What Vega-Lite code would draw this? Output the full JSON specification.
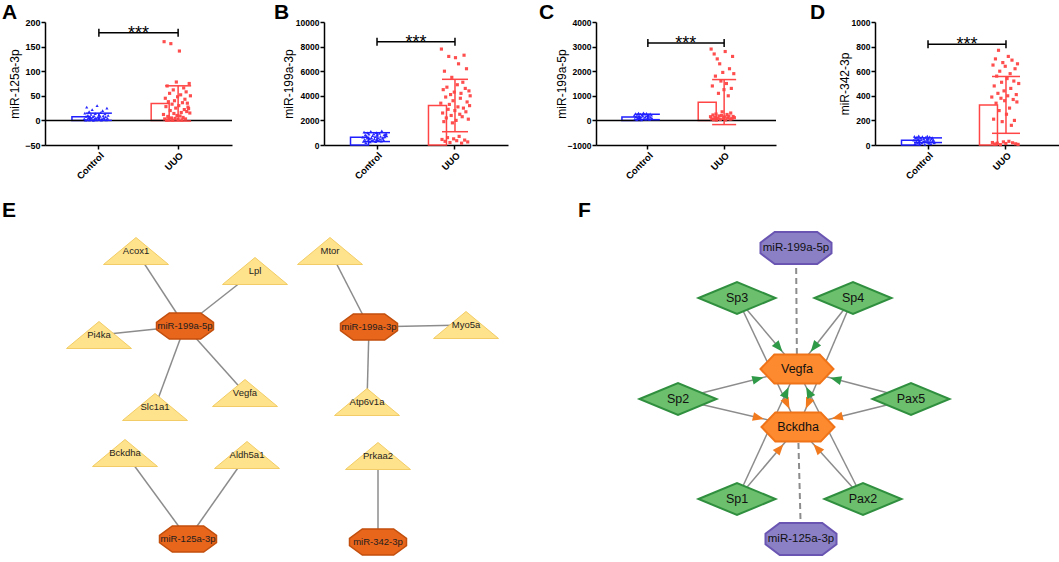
{
 "$schema": "https://vega.github.io/schema/vega-lite/v6.json",
 "padding": {"left": 2, "top": 2, "right": 0, "bottom": 0},
 "config": {
  "view": {"stroke": null},
  "font": "Liberation Sans",
  "title": {"fontSize": 21, "fontWeight": "bold", "anchor": "start", "frame": "group", "baseline": "alphabetic", "color": "#000000", "font": "Liberation Sans"},
  "axis": {"domainColor": "#000000", "tickColor": "#000000", "labelColor": "#000000", "titleColor": "#000000", "grid": false, "domainWidth": 1.5, "tickWidth": 1.5, "tickSize": 4, "labelFontWeight": "bold", "titleFontWeight": "normal", "titleFontSize": 12, "labelPadding": 1, "labelFont": "Liberation Sans", "titleFont": "Liberation Sans", "labelOverlap": false},
  "axisX": {"labelAngle": -45, "labelFontSize": 9.5},
  "axisY": {"labelFontSize": 8.5, "titlePadding": 2, "format": "d", "labelOverlap": false, "tickCount": 12}
 },
 "datasets": {
  "summary": [
   {"panel": "A", "group": "Control", "mean": 7.3, "lo": 0, "hi": 14.7},
   {"panel": "A", "group": "UUO", "mean": 34.5, "lo": -1.3, "hi": 70.3},
   {"panel": "B", "group": "Control", "mean": 640, "lo": 280, "hi": 1000},
   {"panel": "B", "group": "UUO", "mean": 3210, "lo": 1080, "hi": 5340},
   {"panel": "C", "group": "Control", "mean": 140, "lo": 30, "hi": 250},
   {"panel": "C", "group": "UUO", "mean": 740, "lo": -170, "hi": 1660},
   {"panel": "D", "group": "Control", "mean": 39, "lo": 20, "hi": 58},
   {"panel": "D", "group": "UUO", "mean": 326, "lo": 95, "hi": 557}
  ],
  "sig": [
   {"panel": "A", "group": "Control", "g2": "UUO", "y": 178},
   {"panel": "B", "group": "Control", "g2": "UUO", "y": 8400},
   {"panel": "C", "group": "Control", "g2": "UUO", "y": 3150},
   {"panel": "D", "group": "Control", "g2": "UUO", "y": 820}
  ],
  "dots": [
   {"panel":"A","group":"Control","value":3},{"panel":"A","group":"Control","value":15},{"panel":"A","group":"Control","value":0.5},{"panel":"A","group":"Control","value":8},{"panel":"A","group":"Control","value":27},
   {"panel":"A","group":"Control","value":2},{"panel":"A","group":"Control","value":10},{"panel":"A","group":"Control","value":5},{"panel":"A","group":"Control","value":18},{"panel":"A","group":"Control","value":1},
   {"panel":"A","group":"Control","value":6},{"panel":"A","group":"Control","value":12},{"panel":"A","group":"Control","value":4},{"panel":"A","group":"Control","value":22},{"panel":"A","group":"Control","value":7},
   {"panel":"A","group":"Control","value":0},{"panel":"A","group":"Control","value":9},{"panel":"A","group":"Control","value":3},{"panel":"A","group":"Control","value":14},{"panel":"A","group":"Control","value":5},
   {"panel":"A","group":"Control","value":1},{"panel":"A","group":"Control","value":30},{"panel":"A","group":"Control","value":6},{"panel":"A","group":"Control","value":2},{"panel":"A","group":"Control","value":11},
   {"panel":"A","group":"Control","value":4},{"panel":"A","group":"Control","value":8},{"panel":"A","group":"Control","value":16},{"panel":"A","group":"Control","value":0.5},{"panel":"A","group":"Control","value":3},
   {"panel":"A","group":"Control","value":20},{"panel":"A","group":"Control","value":9},{"panel":"A","group":"Control","value":5},{"panel":"A","group":"Control","value":2},{"panel":"A","group":"Control","value":13},
   {"panel":"A","group":"Control","value":7},{"panel":"A","group":"Control","value":1},{"panel":"A","group":"Control","value":25},{"panel":"A","group":"Control","value":4},{"panel":"A","group":"Control","value":10},
   {"panel":"A","group":"UUO","value":12},{"panel":"A","group":"UUO","value":160},{"panel":"A","group":"UUO","value":3},{"panel":"A","group":"UUO","value":45},{"panel":"A","group":"UUO","value":28},
   {"panel":"A","group":"UUO","value":1},{"panel":"A","group":"UUO","value":70},{"panel":"A","group":"UUO","value":8},{"panel":"A","group":"UUO","value":38},{"panel":"A","group":"UUO","value":2},
   {"panel":"A","group":"UUO","value":55},{"panel":"A","group":"UUO","value":20},{"panel":"A","group":"UUO","value":156},{"panel":"A","group":"UUO","value":5},{"panel":"A","group":"UUO","value":33},
   {"panel":"A","group":"UUO","value":0.5},{"panel":"A","group":"UUO","value":62},{"panel":"A","group":"UUO","value":14},{"panel":"A","group":"UUO","value":40},{"panel":"A","group":"UUO","value":4},
   {"panel":"A","group":"UUO","value":25},{"panel":"A","group":"UUO","value":78},{"panel":"A","group":"UUO","value":10},{"panel":"A","group":"UUO","value":48},{"panel":"A","group":"UUO","value":2},
   {"panel":"A","group":"UUO","value":30},{"panel":"A","group":"UUO","value":141},{"panel":"A","group":"UUO","value":9},{"panel":"A","group":"UUO","value":52},{"panel":"A","group":"UUO","value":16},
   {"panel":"A","group":"UUO","value":1},{"panel":"A","group":"UUO","value":36},{"panel":"A","group":"UUO","value":6},{"panel":"A","group":"UUO","value":66},{"panel":"A","group":"UUO","value":22},
   {"panel":"A","group":"UUO","value":43},{"panel":"A","group":"UUO","value":3},{"panel":"A","group":"UUO","value":58},{"panel":"A","group":"UUO","value":18},{"panel":"A","group":"UUO","value":35},
   {"panel":"A","group":"UUO","value":27},{"panel":"A","group":"UUO","value":24},{"panel":"A","group":"UUO","value":75},{"panel":"A","group":"UUO","value":15},{"panel":"A","group":"UUO","value":50},
   {"panel":"B","group":"Control","value":640},{"panel":"B","group":"Control","value":300},{"panel":"B","group":"Control","value":1050},{"panel":"B","group":"Control","value":460},{"panel":"B","group":"Control","value":820},
   {"panel":"B","group":"Control","value":200},{"panel":"B","group":"Control","value":720},{"panel":"B","group":"Control","value":560},{"panel":"B","group":"Control","value":980},{"panel":"B","group":"Control","value":380},
   {"panel":"B","group":"Control","value":880},{"panel":"B","group":"Control","value":520},{"panel":"B","group":"Control","value":250},{"panel":"B","group":"Control","value":1100},{"panel":"B","group":"Control","value":600},
   {"panel":"B","group":"Control","value":420},{"panel":"B","group":"Control","value":760},{"panel":"B","group":"Control","value":340},{"panel":"B","group":"Control","value":900},{"panel":"B","group":"Control","value":500},
   {"panel":"B","group":"Control","value":680},{"panel":"B","group":"Control","value":280},{"panel":"B","group":"Control","value":1000},{"panel":"B","group":"Control","value":440},{"panel":"B","group":"Control","value":800},
   {"panel":"B","group":"Control","value":580},{"panel":"B","group":"Control","value":360},{"panel":"B","group":"Control","value":950},{"panel":"B","group":"Control","value":480},{"panel":"B","group":"Control","value":700},
   {"panel":"B","group":"Control","value":320},{"panel":"B","group":"Control","value":1150},{"panel":"B","group":"Control","value":540},{"panel":"B","group":"Control","value":620},{"panel":"B","group":"Control","value":400},
   {"panel":"B","group":"Control","value":850},{"panel":"B","group":"Control","value":660},{"panel":"B","group":"Control","value":780},{"panel":"B","group":"Control","value":920},{"panel":"B","group":"Control","value":740},
   {"panel":"B","group":"UUO","value":3400},{"panel":"B","group":"UUO","value":7800},{"panel":"B","group":"UUO","value":450},{"panel":"B","group":"UUO","value":2600},{"panel":"B","group":"UUO","value":4500},
   {"panel":"B","group":"UUO","value":1900},{"panel":"B","group":"UUO","value":6000},{"panel":"B","group":"UUO","value":300},{"panel":"B","group":"UUO","value":3900},{"panel":"B","group":"UUO","value":2200},
   {"panel":"B","group":"UUO","value":4700},{"panel":"B","group":"UUO","value":600},{"panel":"B","group":"UUO","value":2900},{"panel":"B","group":"UUO","value":7200},{"panel":"B","group":"UUO","value":3300},
   {"panel":"B","group":"UUO","value":200},{"panel":"B","group":"UUO","value":4100},{"panel":"B","group":"UUO","value":2400},{"panel":"B","group":"UUO","value":5500},{"panel":"B","group":"UUO","value":1800},
   {"panel":"B","group":"UUO","value":3600},{"panel":"B","group":"UUO","value":500},{"panel":"B","group":"UUO","value":4300},{"panel":"B","group":"UUO","value":2800},{"panel":"B","group":"UUO","value":7100},
   {"panel":"B","group":"UUO","value":2000},{"panel":"B","group":"UUO","value":350},{"panel":"B","group":"UUO","value":4900},{"panel":"B","group":"UUO","value":3100},{"panel":"B","group":"UUO","value":6600},
   {"panel":"B","group":"UUO","value":700},{"panel":"B","group":"UUO","value":2500},{"panel":"B","group":"UUO","value":3800},{"panel":"B","group":"UUO","value":4200},{"panel":"B","group":"UUO","value":150},
   {"panel":"B","group":"UUO","value":2300},{"panel":"B","group":"UUO","value":5100},{"panel":"B","group":"UUO","value":3000},{"panel":"B","group":"UUO","value":7300},{"panel":"B","group":"UUO","value":400},
   {"panel":"B","group":"UUO","value":4600},{"panel":"B","group":"UUO","value":2700},{"panel":"B","group":"UUO","value":6200},{"panel":"B","group":"UUO","value":3500},{"panel":"B","group":"UUO","value":250},
   {"panel":"B","group":"UUO","value":2100},{"panel":"B","group":"UUO","value":4400},{"panel":"B","group":"UUO","value":3200},{"panel":"B","group":"UUO","value":4000},
   {"panel":"C","group":"Control","value":200},{"panel":"C","group":"Control","value":60},{"panel":"C","group":"Control","value":280},{"panel":"C","group":"Control","value":150},{"panel":"C","group":"Control","value":30},
   {"panel":"C","group":"Control","value":240},{"panel":"C","group":"Control","value":110},{"panel":"C","group":"Control","value":300},{"panel":"C","group":"Control","value":180},{"panel":"C","group":"Control","value":90},
   {"panel":"C","group":"Control","value":260},{"panel":"C","group":"Control","value":130},{"panel":"C","group":"Control","value":20},{"panel":"C","group":"Control","value":220},{"panel":"C","group":"Control","value":170},
   {"panel":"C","group":"Control","value":310},{"panel":"C","group":"Control","value":70},{"panel":"C","group":"Control","value":250},{"panel":"C","group":"Control","value":140},{"panel":"C","group":"Control","value":50},
   {"panel":"C","group":"Control","value":290},{"panel":"C","group":"Control","value":190},{"panel":"C","group":"Control","value":100},{"panel":"C","group":"Control","value":230},{"panel":"C","group":"Control","value":160},
   {"panel":"C","group":"Control","value":40},{"panel":"C","group":"Control","value":270},{"panel":"C","group":"Control","value":120},{"panel":"C","group":"Control","value":210},{"panel":"C","group":"Control","value":80},
   {"panel":"C","group":"UUO","value":150},{"panel":"C","group":"UUO","value":2900},{"panel":"C","group":"UUO","value":60},{"panel":"C","group":"UUO","value":1400},{"panel":"C","group":"UUO","value":220},
   {"panel":"C","group":"UUO","value":30},{"panel":"C","group":"UUO","value":2700},{"panel":"C","group":"UUO","value":120},{"panel":"C","group":"UUO","value":1800},{"panel":"C","group":"UUO","value":260},
   {"panel":"C","group":"UUO","value":10},{"panel":"C","group":"UUO","value":2500},{"panel":"C","group":"UUO","value":90},{"panel":"C","group":"UUO","value":1100},{"panel":"C","group":"UUO","value":180},
   {"panel":"C","group":"UUO","value":2300},{"panel":"C","group":"UUO","value":40},{"panel":"C","group":"UUO","value":1600},{"panel":"C","group":"UUO","value":200},{"panel":"C","group":"UUO","value":350},
   {"panel":"C","group":"UUO","value":1950},{"panel":"C","group":"UUO","value":80},{"panel":"C","group":"UUO","value":1250},{"panel":"C","group":"UUO","value":140},{"panel":"C","group":"UUO","value":2800},
   {"panel":"C","group":"UUO","value":20},{"panel":"C","group":"UUO","value":1500},{"panel":"C","group":"UUO","value":240},{"panel":"C","group":"UUO","value":100},{"panel":"C","group":"UUO","value":1000},
   {"panel":"C","group":"UUO","value":170},{"panel":"C","group":"UUO","value":2100},{"panel":"C","group":"UUO","value":50},{"panel":"C","group":"UUO","value":300},{"panel":"C","group":"UUO","value":1300},
   {"panel":"C","group":"UUO","value":70},{"panel":"C","group":"UUO","value":2600},{"panel":"C","group":"UUO","value":160},{"panel":"C","group":"UUO","value":1900},{"panel":"C","group":"UUO","value":110},
   {"panel":"D","group":"Control","value":40},{"panel":"D","group":"Control","value":70},{"panel":"D","group":"Control","value":12},{"panel":"D","group":"Control","value":56},{"panel":"D","group":"Control","value":28},
   {"panel":"D","group":"Control","value":64},{"panel":"D","group":"Control","value":20},{"panel":"D","group":"Control","value":48},{"panel":"D","group":"Control","value":75},{"panel":"D","group":"Control","value":34},
   {"panel":"D","group":"Control","value":8},{"panel":"D","group":"Control","value":58},{"panel":"D","group":"Control","value":44},{"panel":"D","group":"Control","value":16},{"panel":"D","group":"Control","value":68},
   {"panel":"D","group":"Control","value":26},{"panel":"D","group":"Control","value":52},{"panel":"D","group":"Control","value":36},{"panel":"D","group":"Control","value":6},{"panel":"D","group":"Control","value":62},
   {"panel":"D","group":"Control","value":30},{"panel":"D","group":"Control","value":46},{"panel":"D","group":"Control","value":72},{"panel":"D","group":"Control","value":22},{"panel":"D","group":"Control","value":54},
   {"panel":"D","group":"Control","value":14},{"panel":"D","group":"Control","value":66},{"panel":"D","group":"Control","value":38},{"panel":"D","group":"Control","value":10},{"panel":"D","group":"Control","value":50},
   {"panel":"D","group":"Control","value":60},{"panel":"D","group":"Control","value":32},{"panel":"D","group":"Control","value":42},{"panel":"D","group":"Control","value":18},{"panel":"D","group":"Control","value":24},
   {"panel":"D","group":"UUO","value":390},{"panel":"D","group":"UUO","value":20},{"panel":"D","group":"UUO","value":650},{"panel":"D","group":"UUO","value":210},{"panel":"D","group":"UUO","value":480},
   {"panel":"D","group":"UUO","value":8},{"panel":"D","group":"UUO","value":700},{"panel":"D","group":"UUO","value":340},{"panel":"D","group":"UUO","value":560},{"panel":"D","group":"UUO","value":15},
   {"panel":"D","group":"UUO","value":420},{"panel":"D","group":"UUO","value":770},{"panel":"D","group":"UUO","value":280},{"panel":"D","group":"UUO","value":600},{"panel":"D","group":"UUO","value":3},
   {"panel":"D","group":"UUO","value":380},{"panel":"D","group":"UUO","value":510},{"panel":"D","group":"UUO","value":190},{"panel":"D","group":"UUO","value":670},{"panel":"D","group":"UUO","value":25},
   {"panel":"D","group":"UUO","value":440},{"panel":"D","group":"UUO","value":360},{"panel":"D","group":"UUO","value":640},{"panel":"D","group":"UUO","value":12},{"panel":"D","group":"UUO","value":250},
   {"panel":"D","group":"UUO","value":540},{"panel":"D","group":"UUO","value":400},{"panel":"D","group":"UUO","value":720},{"panel":"D","group":"UUO","value":30},{"panel":"D","group":"UUO","value":300},
   {"panel":"D","group":"UUO","value":580},{"panel":"D","group":"UUO","value":460},{"panel":"D","group":"UUO","value":160},{"panel":"D","group":"UUO","value":690},{"panel":"D","group":"UUO","value":18},
   {"panel":"D","group":"UUO","value":370},{"panel":"D","group":"UUO","value":520},{"panel":"D","group":"UUO","value":200},{"panel":"D","group":"UUO","value":620},{"panel":"D","group":"UUO","value":10},
   {"panel":"D","group":"UUO","value":410},{"panel":"D","group":"UUO","value":350},{"panel":"D","group":"UUO","value":660},{"panel":"D","group":"UUO","value":5},{"panel":"D","group":"UUO","value":500}
  ],
  "enodes": [
   {"id": "Acox1", "kind": "gene", "x": 134, "y": 30},
   {"id": "Lpl", "kind": "gene", "x": 253, "y": 50},
   {"id": "Mtor", "kind": "gene", "x": 328, "y": 30},
   {"id": "Pi4ka", "kind": "gene", "x": 97, "y": 114},
   {"id": "miR-199a-5p", "kind": "mirna", "x": 183, "y": 105},
   {"id": "miR-199a-3p", "kind": "mirna", "x": 367, "y": 106},
   {"id": "Myo5a", "kind": "gene", "x": 464, "y": 104},
   {"id": "Slc1a1", "kind": "gene", "x": 153, "y": 186},
   {"id": "Vegfa", "kind": "gene", "x": 243, "y": 172},
   {"id": "Atp6v1a", "kind": "gene", "x": 365, "y": 181},
   {"id": "Bckdha", "kind": "gene", "x": 123, "y": 232},
   {"id": "Aldh5a1", "kind": "gene", "x": 245, "y": 234},
   {"id": "Prkaa2", "kind": "gene", "x": 376, "y": 235},
   {"id": "miR-125a-3p", "kind": "mirna", "x": 186, "y": 318},
   {"id": "miR-342-3p", "kind": "mirna", "x": 376, "y": 321}
  ],
  "eedges": [
   {"s": "miR-199a-5p", "t": "Acox1"},
   {"s": "miR-199a-5p", "t": "Lpl"},
   {"s": "miR-199a-5p", "t": "Pi4ka"},
   {"s": "miR-199a-5p", "t": "Slc1a1"},
   {"s": "miR-199a-5p", "t": "Vegfa"},
   {"s": "miR-199a-3p", "t": "Mtor"},
   {"s": "miR-199a-3p", "t": "Myo5a"},
   {"s": "miR-199a-3p", "t": "Atp6v1a"},
   {"s": "miR-125a-3p", "t": "Bckdha"},
   {"s": "miR-125a-3p", "t": "Aldh5a1"},
   {"s": "miR-342-3p", "t": "Prkaa2"}
  ],
  "fnodes": [
   {"id": "miR-199a-5p", "kind": "mirna", "x": 218, "y": 27},
   {"id": "Sp3", "kind": "tf", "x": 159, "y": 77},
   {"id": "Sp4", "kind": "tf", "x": 275, "y": 77},
   {"id": "Vegfa", "kind": "target", "x": 219, "y": 148},
   {"id": "Sp2", "kind": "tf", "x": 100, "y": 178},
   {"id": "Pax5", "kind": "tf", "x": 333, "y": 178},
   {"id": "Bckdha", "kind": "target", "x": 220, "y": 206},
   {"id": "Sp1", "kind": "tf", "x": 159, "y": 278},
   {"id": "Pax2", "kind": "tf", "x": 285, "y": 278},
   {"id": "miR-125a-3p", "kind": "mirna", "x": 223, "y": 318}
  ],
  "fedges": [
   {"s": "miR-199a-5p", "t": "Vegfa", "type": "mirna"},
   {"s": "miR-125a-3p", "t": "Bckdha", "type": "mirna"},
   {"s": "Sp3", "t": "Vegfa", "type": "tf"},
   {"s": "Sp3", "t": "Bckdha", "type": "tf"},
   {"s": "Sp4", "t": "Vegfa", "type": "tf"},
   {"s": "Sp4", "t": "Bckdha", "type": "tf"},
   {"s": "Sp2", "t": "Vegfa", "type": "tf"},
   {"s": "Sp2", "t": "Bckdha", "type": "tf"},
   {"s": "Pax5", "t": "Vegfa", "type": "tf"},
   {"s": "Pax5", "t": "Bckdha", "type": "tf"},
   {"s": "Sp1", "t": "Vegfa", "type": "tf"},
   {"s": "Sp1", "t": "Bckdha", "type": "tf"},
   {"s": "Pax2", "t": "Vegfa", "type": "tf"},
   {"s": "Pax2", "t": "Bckdha", "type": "tf"}
  ]
 },
 "resolve": {"scale": {"x": "independent", "y": "independent", "color": "independent", "fill": "independent"}},
 "spacing": 19,
 "vconcat": [
  {
   "resolve": {"scale": {"x": "independent", "y": "independent"}},
   "spacing": 31,
   "hconcat": [
    {
     "resolve": {"scale": {"x": "independent", "y": "independent"}},
     "spacing": 41,
     "hconcat": [
      {
       "width": 187, "height": 123,
       "title": {"text": "A", "dx": -43, "offset": -5},
       "layer": [
        {"data": {"name": "summary"}, "transform": [{"filter": "datum.panel==='A'"}],
         "mark": {"type": "bar", "fill": "#ffffff", "strokeWidth": 1.5},
         "encoding": {
          "x": {"field": "group", "type": "nominal", "scale": {"domain": ["Control", "UUO"], "paddingInner": 0.32, "paddingOuter": 0.34}, "axis": {"title": null, "labelOverlap": false}},
          "y": {"field": "mean", "type": "quantitative", "scale": {"domain": [-50, 200], "nice": false, "zero": false}, "axis": {"title": "miR-125a-3p", "values": [-50, 0, 50, 100, 150, 200], "tickCount": 12, "minExtent": 22, "maxExtent": 22, "labelFontSize": 9, "labelOverlap": false, "labelBound": false, "labelFlush": false}},
          "y2": {"datum": 0},
          "stroke": {"field": "group", "type": "nominal", "scale": {"domain": ["Control", "UUO"], "range": ["#1f1fff", "#ff4545"]}, "legend": null}}},
        {"data": {"values": [{"value": 0}]}, "mark": {"type": "rule", "color": "#000000", "strokeWidth": 1.5}, "encoding": {"y": {"field": "value", "type": "quantitative"}}},
        {"data": {"name": "dots"}, "transform": [{"filter": "datum.panel==='A'"}, {"window": [{"op": "row_number", "as": "rn"}], "groupby": ["group"]}],
         "mark": {"type": "point", "filled": true, "size": 10, "opacity": 0.95},
         "encoding": {
          "x": {"field": "group", "type": "nominal"},
          "xOffset": {"field": "rn", "type": "ordinal", "scale": {"range": [12, 42]}},
          "y": {"field": "value", "type": "quantitative"},
          "color": {"field": "group", "type": "nominal", "scale": {"domain": ["Control", "UUO"], "range": ["#1f1fff", "#ff4545"]}, "legend": null},
          "shape": {"field": "group", "type": "nominal", "scale": {"domain": ["Control", "UUO"], "range": ["triangle-up", "square"]}, "legend": null}}},
        {"data": {"name": "summary"}, "transform": [{"filter": "datum.panel==='A'"}], "mark": {"type": "rule", "strokeWidth": 1.5},
         "encoding": {"x": {"field": "group", "type": "nominal"}, "y": {"field": "lo", "type": "quantitative"}, "y2": {"field": "hi"}, "color": {"field": "group", "type": "nominal", "scale": {"domain": ["Control", "UUO"], "range": ["#1f1fff", "#ff4545"]}, "legend": null}}},
        {"data": {"name": "summary"}, "transform": [{"filter": "datum.panel==='A'"}], "mark": {"type": "tick", "size": 26, "thickness": 1.5, "opacity": 1},
         "encoding": {"x": {"field": "group", "type": "nominal"}, "y": {"field": "hi", "type": "quantitative"}, "color": {"field": "group", "type": "nominal", "scale": {"domain": ["Control", "UUO"], "range": ["#1f1fff", "#ff4545"]}, "legend": null}}},
        {"data": {"name": "summary"}, "transform": [{"filter": "datum.panel==='A'"}], "mark": {"type": "tick", "size": 26, "thickness": 1.5, "opacity": 1},
         "encoding": {"x": {"field": "group", "type": "nominal"}, "y": {"field": "lo", "type": "quantitative"}, "color": {"field": "group", "type": "nominal", "scale": {"domain": ["Control", "UUO"], "range": ["#1f1fff", "#ff4545"]}, "legend": null}}},
        {"data": {"name": "sig"}, "transform": [{"filter": "datum.panel==='A'"}], "mark": {"type": "rule", "color": "#000000", "strokeWidth": 1.5},
         "encoding": {"x": {"field": "group", "type": "nominal"}, "x2": {"field": "g2"}, "y": {"field": "y", "type": "quantitative"}}},
        {"data": {"name": "sig"}, "transform": [{"filter": "datum.panel==='A'"}], "mark": {"type": "point", "shape": "M0,-1L0,1", "size": 64, "filled": false, "stroke": "#000000", "strokeWidth": 1.5, "opacity": 1},
         "encoding": {"x": {"field": "group", "type": "nominal"}, "y": {"field": "y", "type": "quantitative"}}},
        {"data": {"name": "sig"}, "transform": [{"filter": "datum.panel==='A'"}], "mark": {"type": "point", "shape": "M0,-1L0,1", "size": 64, "filled": false, "stroke": "#000000", "strokeWidth": 1.5, "opacity": 1},
         "encoding": {"x": {"field": "g2", "type": "nominal"}, "y": {"field": "y", "type": "quantitative"}}},
        {"data": {"name": "sig"}, "transform": [{"filter": "datum.panel==='A'"}], "mark": {"type": "text", "text": "***", "fontSize": 18, "dx": 39.5, "dy": 6, "baseline": "alphabetic", "align": "center", "color": "#000000"},
         "encoding": {"x": {"field": "group", "type": "nominal"}, "y": {"field": "y", "type": "quantitative"}}}
       ]
      },
      {
       "width": 184, "height": 123,
       "title": {"text": "B", "dx": -50, "offset": -5},
       "layer": [
        {"data": {"name": "summary"}, "transform": [{"filter": "datum.panel==='B'"}],
         "mark": {"type": "bar", "fill": "#ffffff", "strokeWidth": 1.5},
         "encoding": {
          "x": {"field": "group", "type": "nominal", "scale": {"domain": ["Control", "UUO"], "paddingInner": 0.32, "paddingOuter": 0.34}, "axis": {"title": null, "labelOverlap": false}},
          "y": {"field": "mean", "type": "quantitative", "scale": {"domain": [0, 10000], "nice": false, "zero": false}, "axis": {"title": "miR-199a-3p", "values": [0, 2000, 4000, 6000, 8000, 10000], "tickCount": 12, "minExtent": 27, "maxExtent": 27, "labelOverlap": false, "labelBound": false, "labelFlush": false}},
          "y2": {"datum": 0},
          "stroke": {"field": "group", "type": "nominal", "scale": {"domain": ["Control", "UUO"], "range": ["#1f1fff", "#ff4545"]}, "legend": null}}},
        {"data": {"name": "dots"}, "transform": [{"filter": "datum.panel==='B'"}, {"window": [{"op": "row_number", "as": "rn"}], "groupby": ["group"]}],
         "mark": {"type": "point", "filled": true, "size": 10, "opacity": 0.95},
         "encoding": {
          "x": {"field": "group", "type": "nominal"},
          "xOffset": {"field": "rn", "type": "ordinal", "scale": {"range": [12, 41]}},
          "y": {"field": "value", "type": "quantitative"},
          "color": {"field": "group", "type": "nominal", "scale": {"domain": ["Control", "UUO"], "range": ["#1f1fff", "#ff4545"]}, "legend": null},
          "shape": {"field": "group", "type": "nominal", "scale": {"domain": ["Control", "UUO"], "range": ["triangle-up", "square"]}, "legend": null}}},
        {"data": {"name": "summary"}, "transform": [{"filter": "datum.panel==='B'"}], "mark": {"type": "rule", "strokeWidth": 1.5},
         "encoding": {"x": {"field": "group", "type": "nominal"}, "y": {"field": "lo", "type": "quantitative"}, "y2": {"field": "hi"}, "color": {"field": "group", "type": "nominal", "scale": {"domain": ["Control", "UUO"], "range": ["#1f1fff", "#ff4545"]}, "legend": null}}},
        {"data": {"name": "summary"}, "transform": [{"filter": "datum.panel==='B'"}], "mark": {"type": "tick", "size": 26, "thickness": 1.5, "opacity": 1},
         "encoding": {"x": {"field": "group", "type": "nominal"}, "y": {"field": "hi", "type": "quantitative"}, "color": {"field": "group", "type": "nominal", "scale": {"domain": ["Control", "UUO"], "range": ["#1f1fff", "#ff4545"]}, "legend": null}}},
        {"data": {"name": "summary"}, "transform": [{"filter": "datum.panel==='B'"}], "mark": {"type": "tick", "size": 26, "thickness": 1.5, "opacity": 1},
         "encoding": {"x": {"field": "group", "type": "nominal"}, "y": {"field": "lo", "type": "quantitative"}, "color": {"field": "group", "type": "nominal", "scale": {"domain": ["Control", "UUO"], "range": ["#1f1fff", "#ff4545"]}, "legend": null}}},
        {"data": {"name": "sig"}, "transform": [{"filter": "datum.panel==='B'"}], "mark": {"type": "rule", "color": "#000000", "strokeWidth": 1.5},
         "encoding": {"x": {"field": "group", "type": "nominal"}, "x2": {"field": "g2"}, "y": {"field": "y", "type": "quantitative"}}},
        {"data": {"name": "sig"}, "transform": [{"filter": "datum.panel==='B'"}], "mark": {"type": "point", "shape": "M0,-1L0,1", "size": 64, "filled": false, "stroke": "#000000", "strokeWidth": 1.5, "opacity": 1},
         "encoding": {"x": {"field": "group", "type": "nominal"}, "y": {"field": "y", "type": "quantitative"}}},
        {"data": {"name": "sig"}, "transform": [{"filter": "datum.panel==='B'"}], "mark": {"type": "point", "shape": "M0,-1L0,1", "size": 64, "filled": false, "stroke": "#000000", "strokeWidth": 1.5, "opacity": 1},
         "encoding": {"x": {"field": "g2", "type": "nominal"}, "y": {"field": "y", "type": "quantitative"}}},
        {"data": {"name": "sig"}, "transform": [{"filter": "datum.panel==='B'"}], "mark": {"type": "text", "text": "***", "fontSize": 18, "dx": 38.9, "dy": 6, "baseline": "alphabetic", "align": "center", "color": "#000000"},
         "encoding": {"x": {"field": "group", "type": "nominal"}, "y": {"field": "y", "type": "quantitative"}}}
       ]
      }
     ]
    },
    {
     "resolve": {"scale": {"x": "independent", "y": "independent"}},
     "spacing": 33,
     "hconcat": [
      {
       "width": 180, "height": 123,
       "title": {"text": "C", "dx": -57, "offset": -5},
       "layer": [
        {"data": {"name": "summary"}, "transform": [{"filter": "datum.panel==='C'"}],
         "mark": {"type": "bar", "fill": "#ffffff", "strokeWidth": 1.5},
         "encoding": {
          "x": {"field": "group", "type": "nominal", "scale": {"domain": ["Control", "UUO"], "paddingInner": 0.32, "paddingOuter": 0.34}, "axis": {"title": null, "labelOverlap": false}},
          "y": {"field": "mean", "type": "quantitative", "scale": {"domain": [-1000, 4000], "nice": false, "zero": false}, "axis": {"title": "miR-199a-5p", "values": [-1000, 0, 1000, 2000, 3000, 4000], "tickCount": 12, "minExtent": 26, "maxExtent": 26, "labelOverlap": false, "labelBound": false, "labelFlush": false}},
          "y2": {"datum": 0},
          "stroke": {"field": "group", "type": "nominal", "scale": {"domain": ["Control", "UUO"], "range": ["#1f1fff", "#ff4545"]}, "legend": null}}},
        {"data": {"values": [{"value": 0}]}, "mark": {"type": "rule", "color": "#000000", "strokeWidth": 1.5}, "encoding": {"y": {"field": "value", "type": "quantitative"}}},
        {"data": {"name": "dots"}, "transform": [{"filter": "datum.panel==='C'"}, {"window": [{"op": "row_number", "as": "rn"}], "groupby": ["group"]}],
         "mark": {"type": "point", "filled": true, "size": 10, "opacity": 0.95},
         "encoding": {
          "x": {"field": "group", "type": "nominal"},
          "xOffset": {"field": "rn", "type": "ordinal", "scale": {"range": [12, 40]}},
          "y": {"field": "value", "type": "quantitative"},
          "color": {"field": "group", "type": "nominal", "scale": {"domain": ["Control", "UUO"], "range": ["#1f1fff", "#ff4545"]}, "legend": null},
          "shape": {"field": "group", "type": "nominal", "scale": {"domain": ["Control", "UUO"], "range": ["triangle-up", "square"]}, "legend": null}}},
        {"data": {"name": "summary"}, "transform": [{"filter": "datum.panel==='C'"}], "mark": {"type": "rule", "strokeWidth": 1.5},
         "encoding": {"x": {"field": "group", "type": "nominal"}, "y": {"field": "lo", "type": "quantitative"}, "y2": {"field": "hi"}, "color": {"field": "group", "type": "nominal", "scale": {"domain": ["Control", "UUO"], "range": ["#1f1fff", "#ff4545"]}, "legend": null}}},
        {"data": {"name": "summary"}, "transform": [{"filter": "datum.panel==='C'"}], "mark": {"type": "tick", "size": 24, "thickness": 1.5, "opacity": 1},
         "encoding": {"x": {"field": "group", "type": "nominal"}, "y": {"field": "hi", "type": "quantitative"}, "color": {"field": "group", "type": "nominal", "scale": {"domain": ["Control", "UUO"], "range": ["#1f1fff", "#ff4545"]}, "legend": null}}},
        {"data": {"name": "summary"}, "transform": [{"filter": "datum.panel==='C'"}], "mark": {"type": "tick", "size": 24, "thickness": 1.5, "opacity": 1},
         "encoding": {"x": {"field": "group", "type": "nominal"}, "y": {"field": "lo", "type": "quantitative"}, "color": {"field": "group", "type": "nominal", "scale": {"domain": ["Control", "UUO"], "range": ["#1f1fff", "#ff4545"]}, "legend": null}}},
        {"data": {"name": "sig"}, "transform": [{"filter": "datum.panel==='C'"}], "mark": {"type": "rule", "color": "#000000", "strokeWidth": 1.5},
         "encoding": {"x": {"field": "group", "type": "nominal"}, "x2": {"field": "g2"}, "y": {"field": "y", "type": "quantitative"}}},
        {"data": {"name": "sig"}, "transform": [{"filter": "datum.panel==='C'"}], "mark": {"type": "point", "shape": "M0,-1L0,1", "size": 64, "filled": false, "stroke": "#000000", "strokeWidth": 1.5, "opacity": 1},
         "encoding": {"x": {"field": "group", "type": "nominal"}, "y": {"field": "y", "type": "quantitative"}}},
        {"data": {"name": "sig"}, "transform": [{"filter": "datum.panel==='C'"}], "mark": {"type": "point", "shape": "M0,-1L0,1", "size": 64, "filled": false, "stroke": "#000000", "strokeWidth": 1.5, "opacity": 1},
         "encoding": {"x": {"field": "g2", "type": "nominal"}, "y": {"field": "y", "type": "quantitative"}}},
        {"data": {"name": "sig"}, "transform": [{"filter": "datum.panel==='C'"}], "mark": {"type": "text", "text": "***", "fontSize": 18, "dx": 38, "dy": 6, "baseline": "alphabetic", "align": "center", "color": "#000000"},
         "encoding": {"x": {"field": "group", "type": "nominal"}, "y": {"field": "y", "type": "quantitative"}}}
       ]
      },
      {
       "width": 184, "height": 123,
       "title": {"text": "D", "dx": -65, "offset": -5},
       "layer": [
        {"data": {"name": "summary"}, "transform": [{"filter": "datum.panel==='D'"}],
         "mark": {"type": "bar", "fill": "#ffffff", "strokeWidth": 1.5},
         "encoding": {
          "x": {"field": "group", "type": "nominal", "scale": {"domain": ["Control", "UUO"], "paddingInner": 0.32, "paddingOuter": 0.34}, "axis": {"title": null, "labelOverlap": false}},
          "y": {"field": "mean", "type": "quantitative", "scale": {"domain": [0, 1000], "nice": false, "zero": false}, "axis": {"title": "miR-342-3p", "values": [0, 200, 400, 600, 800, 1000], "tickCount": 12, "minExtent": 22, "maxExtent": 22, "labelOverlap": false, "labelBound": false, "labelFlush": false}},
          "y2": {"datum": 0},
          "stroke": {"field": "group", "type": "nominal", "scale": {"domain": ["Control", "UUO"], "range": ["#1f1fff", "#ff4545"]}, "legend": null}}},
        {"data": {"name": "dots"}, "transform": [{"filter": "datum.panel==='D'"}, {"window": [{"op": "row_number", "as": "rn"}], "groupby": ["group"]}],
         "mark": {"type": "point", "filled": true, "size": 10, "opacity": 0.95},
         "encoding": {
          "x": {"field": "group", "type": "nominal"},
          "xOffset": {"field": "rn", "type": "ordinal", "scale": {"range": [12, 41]}},
          "y": {"field": "value", "type": "quantitative"},
          "color": {"field": "group", "type": "nominal", "scale": {"domain": ["Control", "UUO"], "range": ["#1f1fff", "#ff4545"]}, "legend": null},
          "shape": {"field": "group", "type": "nominal", "scale": {"domain": ["Control", "UUO"], "range": ["triangle-up", "square"]}, "legend": null}}},
        {"data": {"name": "summary"}, "transform": [{"filter": "datum.panel==='D'"}], "mark": {"type": "rule", "strokeWidth": 1.5},
         "encoding": {"x": {"field": "group", "type": "nominal"}, "y": {"field": "lo", "type": "quantitative"}, "y2": {"field": "hi"}, "color": {"field": "group", "type": "nominal", "scale": {"domain": ["Control", "UUO"], "range": ["#1f1fff", "#ff4545"]}, "legend": null}}},
        {"data": {"name": "summary"}, "transform": [{"filter": "datum.panel==='D'"}], "mark": {"type": "tick", "size": 28, "thickness": 1.5, "opacity": 1},
         "encoding": {"x": {"field": "group", "type": "nominal"}, "y": {"field": "hi", "type": "quantitative"}, "color": {"field": "group", "type": "nominal", "scale": {"domain": ["Control", "UUO"], "range": ["#1f1fff", "#ff4545"]}, "legend": null}}},
        {"data": {"name": "summary"}, "transform": [{"filter": "datum.panel==='D'"}], "mark": {"type": "tick", "size": 28, "thickness": 1.5, "opacity": 1},
         "encoding": {"x": {"field": "group", "type": "nominal"}, "y": {"field": "lo", "type": "quantitative"}, "color": {"field": "group", "type": "nominal", "scale": {"domain": ["Control", "UUO"], "range": ["#1f1fff", "#ff4545"]}, "legend": null}}},
        {"data": {"name": "sig"}, "transform": [{"filter": "datum.panel==='D'"}], "mark": {"type": "rule", "color": "#000000", "strokeWidth": 1.5},
         "encoding": {"x": {"field": "group", "type": "nominal"}, "x2": {"field": "g2"}, "y": {"field": "y", "type": "quantitative"}}},
        {"data": {"name": "sig"}, "transform": [{"filter": "datum.panel==='D'"}], "mark": {"type": "point", "shape": "M0,-1L0,1", "size": 64, "filled": false, "stroke": "#000000", "strokeWidth": 1.5, "opacity": 1},
         "encoding": {"x": {"field": "group", "type": "nominal"}, "y": {"field": "y", "type": "quantitative"}}},
        {"data": {"name": "sig"}, "transform": [{"filter": "datum.panel==='D'"}], "mark": {"type": "point", "shape": "M0,-1L0,1", "size": 64, "filled": false, "stroke": "#000000", "strokeWidth": 1.5, "opacity": 1},
         "encoding": {"x": {"field": "g2", "type": "nominal"}, "y": {"field": "y", "type": "quantitative"}}},
        {"data": {"name": "sig"}, "transform": [{"filter": "datum.panel==='D'"}], "mark": {"type": "text", "text": "***", "fontSize": 18, "dx": 38.9, "dy": 6, "baseline": "alphabetic", "align": "center", "color": "#000000"},
         "encoding": {"x": {"field": "group", "type": "nominal"}, "y": {"field": "y", "type": "quantitative"}}}
       ]
      }
     ]
    }
   ]
  },
  {
   "resolve": {"scale": {"x": "independent", "y": "independent", "color": "independent", "fill": "independent"}},
   "spacing": 38,
   "hconcat": [
    {
     "width": 495, "height": 338,
     "title": {"text": "E", "dx": -43, "offset": 0},
     "layer": [
      {"data": {"name": "eedges"},
       "transform": [
        {"lookup": "s", "from": {"data": {"name": "enodes"}, "key": "id", "fields": ["x", "y"]}, "as": ["sx", "sy"]},
        {"lookup": "t", "from": {"data": {"name": "enodes"}, "key": "id", "fields": ["x", "y"]}, "as": ["tx", "ty"]}
       ],
       "mark": {"type": "rule", "color": "#8c8c8c", "strokeWidth": 1.5},
       "encoding": {
        "x": {"field": "sx", "type": "quantitative", "scale": {"domain": [43, 538], "nice": false, "zero": false}, "axis": null},
        "y": {"field": "sy", "type": "quantitative", "scale": {"domain": [0, 338], "nice": false, "zero": false, "reverse": true}, "axis": null},
        "x2": {"field": "tx"}, "y2": {"field": "ty"}}},
      {"data": {"name": "enodes"}, "transform": [{"filter": "datum.kind==='gene'"}],
       "mark": {"type": "point", "shape": "M-1,0.415L0,-0.415L1,0.415Z", "size": 4225, "filled": true, "fill": "#ffe28c", "stroke": "#f2cd66", "strokeWidth": 1, "opacity": 1},
       "encoding": {"x": {"field": "x", "type": "quantitative"}, "y": {"field": "y", "type": "quantitative"}}},
      {"data": {"name": "enodes"}, "transform": [{"filter": "datum.kind==='mirna'"}],
       "mark": {"type": "point", "shape": "M-0.55,-0.456L0.55,-0.456L1,-0.13L1,0.13L0.55,0.456L-0.55,0.456L-1,0.13L-1,-0.13Z", "size": 3249, "filled": true, "fill": "#e8651c", "stroke": "#c24f0d", "strokeWidth": 1.5, "opacity": 1},
       "encoding": {"x": {"field": "x", "type": "quantitative"}, "y": {"field": "y", "type": "quantitative"}}},
      {"data": {"name": "enodes"},
       "mark": {"type": "text", "fontSize": 9.5, "color": "#1e1e1e", "font": "Liberation Sans"},
       "encoding": {"x": {"field": "x", "type": "quantitative"}, "y": {"field": "y", "type": "quantitative"}, "text": {"field": "id", "type": "nominal"}}}
     ]
    },
    {
     "width": 481, "height": 338,
     "title": {"text": "F", "offset": 0},
     "layer": [
      {"data": {"name": "fedges"},
       "transform": [
        {"filter": "datum.type==='tf'"},
        {"lookup": "s", "from": {"data": {"name": "fnodes"}, "key": "id", "fields": ["x", "y"]}, "as": ["sx", "sy"]},
        {"lookup": "t", "from": {"data": {"name": "fnodes"}, "key": "id", "fields": ["x", "y"]}, "as": ["tx", "ty"]}
       ],
       "mark": {"type": "rule", "color": "#8c8c8c", "strokeWidth": 1.5},
       "encoding": {
        "x": {"field": "sx", "type": "quantitative", "scale": {"domain": [0, 481], "nice": false, "zero": false}, "axis": null},
        "y": {"field": "sy", "type": "quantitative", "scale": {"domain": [0, 338], "nice": false, "zero": false, "reverse": true}, "axis": null},
        "x2": {"field": "tx"}, "y2": {"field": "ty"}}},
      {"data": {"name": "fedges"},
       "transform": [
        {"filter": "datum.type==='mirna'"},
        {"lookup": "s", "from": {"data": {"name": "fnodes"}, "key": "id", "fields": ["x", "y"]}, "as": ["sx", "sy"]},
        {"lookup": "t", "from": {"data": {"name": "fnodes"}, "key": "id", "fields": ["x", "y"]}, "as": ["tx", "ty"]}
       ],
       "mark": {"type": "rule", "color": "#8c8c8c", "strokeWidth": 2, "strokeDash": [6, 4]},
       "encoding": {"x": {"field": "sx", "type": "quantitative"}, "y": {"field": "sy", "type": "quantitative"}, "x2": {"field": "tx"}, "y2": {"field": "ty"}}},
      {"data": {"name": "fnodes"}, "transform": [{"filter": "datum.kind==='tf'"}],
       "mark": {"type": "point", "shape": "M-1,0L0,-0.415L1,0L0,0.415Z", "size": 5929, "filled": true, "fill": "#6cbf6c", "stroke": "#2f8f3f", "strokeWidth": 2, "opacity": 1},
       "encoding": {"x": {"field": "x", "type": "quantitative"}, "y": {"field": "y", "type": "quantitative"}}},
      {"data": {"name": "fnodes"}, "transform": [{"filter": "datum.kind==='target'"}],
       "mark": {"type": "point", "shape": "M-1,0L-0.62,-0.4L0.62,-0.4L1,0L0.62,0.4L-0.62,0.4Z", "size": 5329, "filled": true, "fill": "#fd8a2e", "stroke": "#f07318", "strokeWidth": 2, "opacity": 1},
       "encoding": {"x": {"field": "x", "type": "quantitative"}, "y": {"field": "y", "type": "quantitative"}}},
      {"data": {"name": "fnodes"}, "transform": [{"filter": "datum.kind==='mirna'"}],
       "mark": {"type": "point", "shape": "M-0.6,-0.45L0.6,-0.45L1,-0.15L1,0.15L0.6,0.45L-0.6,0.45L-1,0.15L-1,-0.15Z", "size": 5041, "filled": true, "fill": "#8b80c6", "stroke": "#6a56b2", "strokeWidth": 2, "opacity": 1},
       "encoding": {"x": {"field": "x", "type": "quantitative"}, "y": {"field": "y", "type": "quantitative"}}},
      {"data": {"name": "fedges"},
       "transform": [
        {"filter": "datum.type==='tf'"},
        {"lookup": "s", "from": {"data": {"name": "fnodes"}, "key": "id", "fields": ["x", "y"]}, "as": ["sx", "sy"]},
        {"lookup": "t", "from": {"data": {"name": "fnodes"}, "key": "id", "fields": ["x", "y"]}, "as": ["tx", "ty"]},
        {"calculate": "datum.tx - datum.sx", "as": "dx"},
        {"calculate": "datum.ty - datum.sy", "as": "dy"},
        {"calculate": "sqrt(datum.dx * datum.dx + datum.dy * datum.dy)", "as": "len"},
        {"calculate": "5.5 + 1 / sqrt(pow(datum.dx / datum.len / 38, 2) + pow(datum.dy / datum.len / 19, 2))", "as": "r"},
        {"calculate": "datum.tx - datum.dx / datum.len * datum.r", "as": "hx"},
        {"calculate": "datum.ty - datum.dy / datum.len * datum.r", "as": "hy"},
        {"calculate": "atan2(datum.dx, -datum.dy) * 180 / PI", "as": "ang"}
       ],
       "mark": {"type": "point", "shape": "M0,-1L0.75,0.9L-0.75,0.9Z", "size": 140, "filled": true, "opacity": 1},
       "encoding": {
        "x": {"field": "hx", "type": "quantitative"},
        "y": {"field": "hy", "type": "quantitative"},
        "angle": {"field": "ang", "type": "quantitative", "scale": null},
        "fill": {"field": "t", "type": "nominal", "scale": {"domain": ["Vegfa", "Bckdha"], "range": ["#2e9a48", "#f27a1e"]}, "legend": null}}},
      {"data": {"name": "fnodes"}, "transform": [{"filter": "datum.kind!=='mirna'"}],
       "mark": {"type": "text", "fontSize": 12.5, "color": "#111111", "font": "Liberation Sans"},
       "encoding": {"x": {"field": "x", "type": "quantitative"}, "y": {"field": "y", "type": "quantitative"}, "text": {"field": "id", "type": "nominal"}}},
      {"data": {"name": "fnodes"}, "transform": [{"filter": "datum.kind==='mirna'"}],
       "mark": {"type": "text", "fontSize": 11.5, "color": "#111111", "font": "Liberation Sans"},
       "encoding": {"x": {"field": "x", "type": "quantitative"}, "y": {"field": "y", "type": "quantitative"}, "text": {"field": "id", "type": "nominal"}}}
     ]
    }
   ]
  }
 ]
}
